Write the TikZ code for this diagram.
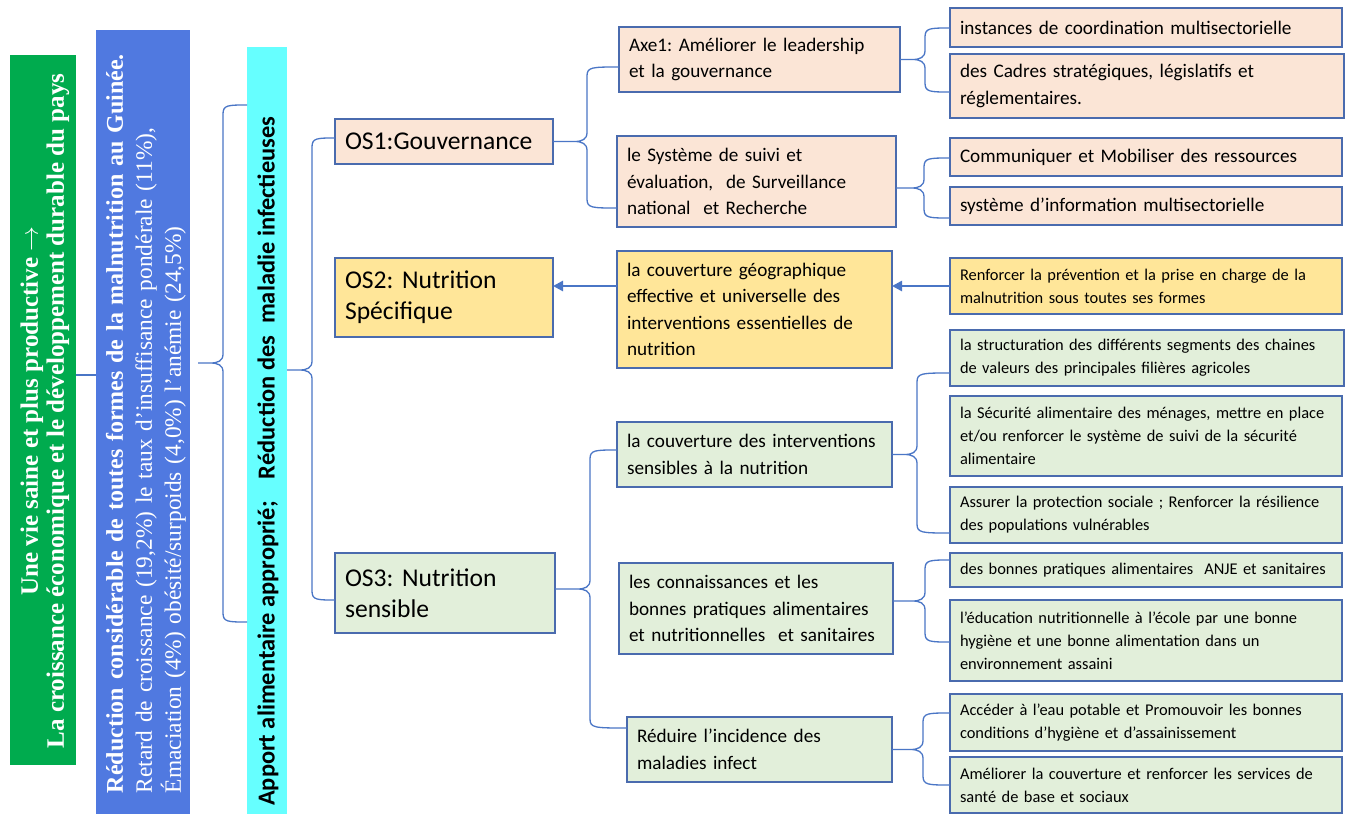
\documentclass[tikz,border=0pt]{standalone}
\usepackage{fontspec}
\setmainfont{Carlito}
\newfontfamily\tnr{Liberation Serif}
\usetikzlibrary{arrows.meta,calc}
\definecolor{peach}{HTML}{FBE5D6}
\definecolor{gold}{HTML}{FFE699}
\definecolor{lgreen}{HTML}{E2EFDA}
\definecolor{bord}{HTML}{4A6BAE}
\definecolor{linkc}{HTML}{4A76C6}
\definecolor{barG}{HTML}{00AB4E}
\definecolor{barB}{HTML}{5079E0}
\definecolor{barC}{HTML}{66FFFF}
\tikzset{
 box/.style={draw=bord, line width=1.3pt, inner xsep=10pt, inner ysep=0pt, outer sep=0pt, align=left, text=black,
   execute at begin node={\frenchspacing\hyphenpenalty=10000\exhyphenpenalty=10000}},
 fsL/.style={font=\fontsize{19.2}{26.5}\selectfont},
 fsS/.style={font=\fontsize{16.4}{23}\selectfont},
 fsOS/.style={font=\fontsize{25.6}{31}\selectfont},
 link/.style={draw=linkc, line width=1.3pt},
 arr/.style={draw=linkc, line width=2.6pt, -{Triangle[length=10pt,width=10pt]}},
 bar/.style={draw=none, inner sep=0pt, outer sep=0pt, anchor=north west},
}
\newcommand\bx[7]{%
 \pgfmathsetmacro\bxw{#4-#2-20}%
 \pgfmathsetmacro\bxh{#5-#3}%
 \node[box,#6, anchor=north west, minimum height=\bxh pt, text width=\bxw pt] (#1) at (#2,#3) {#7};}
\newcommand\curly[4]{%
\draw[link] let \p1=(#1), \p2=(#3), \p3=(#4) in
 (\p2) .. controls (#2pt+5pt,\y2) and (#2pt,\y2) .. (#2pt,\y2-9pt)
 -- (#2pt,\y1+9pt) .. controls (#2pt,\y1+2pt) and (#2pt-5pt,\y1) .. (#2pt-13pt,\y1) -- (\p1)
 (\p1) -- (#2pt-13pt,\y1) .. controls (#2pt-5pt,\y1) and (#2pt,\y1-2pt) .. (#2pt,\y1-9pt)
 -- (#2pt,\y3+9pt) .. controls (#2pt,\y3) and (#2pt+5pt,\y3) .. (\p3);
}
\begin{document}
\begin{tikzpicture}[x=1pt,y=-1pt]
\fill[white] (0,0) rectangle (1350,814);
\useasboundingbox (0,0) rectangle (1350,814);
% bars
\node[bar, fill=barG, minimum width=66pt, minimum height=710pt] (green) at (10,55) {};
\node[bar, fill=barB, minimum width=94pt, minimum height=784pt] (blue) at (96,30) {};
\node[bar, fill=barC, minimum width=40pt, minimum height=767pt] (cyan) at (247,47) {};
\node[rotate=90, text=white, font=\tnr\bfseries\fontsize{25}{26}\selectfont, align=center, inner sep=0pt] (gtext) at (45,411)
 {Une vie saine et plus productive $\rightarrow$\\La croissance économique et le développement durable du pays};
\node[rotate=90, text=white, font=\tnr\fontsize{23.4}{29}\selectfont, text width=751pt, align=left, inner sep=0pt] (btext) at (146,417.5)
 {\mbox{\fontsize{24}{29}\selectfont\bfseries Réduction considérable de toutes formes de la malnutrition au Guinée.}\\
 \makebox[\linewidth][s]{Retard de croissance (19,2\%) le taux d’insuffisance pondérale (11\%),}\\
 Émaciation (4\%) obésité/surpoids (4,0\%) l’anémie (24,5\%)};
\node[rotate=90, anchor=west, font=\bfseries\fontsize{24.4}{26}\selectfont, inner sep=0pt] (ctext) at (268,806)
 {Apport alimentaire approprié;\hspace{22pt}Réduction des\hspace{12pt}maladie infectieuses};
% level 1
\bx{os1}{335}{119}{553}{164}{fill=peach,fsOS}{OS1:Gouvernance}
\bx{os2}{335}{258}{553}{337}{fill=gold,fsOS}{OS2: Nutrition\\Spécifique}
\bx{os3}{335}{553}{555}{633}{fill=lgreen,fsOS}{OS3: Nutrition\\sensible}
% level 2
\bx{axe1}{619}{27}{900}{92}{fill=peach,fsL}{\mbox{Axe1: Améliorer le leadership}\\et la gouvernance}
\bx{suivi}{617}{136}{896}{227}{fill=peach,fsL}{le Système de suivi et\\\mbox{évaluation,\ \ de Surveillance}\\national\ \ et Recherche}
\bx{geo}{617}{251}{892}{368}{fill=gold,fsL}{la couverture géographique\\\mbox{effective et universelle des}\\\mbox{interventions essentielles de}\\nutrition}
\bx{sens}{617}{422}{892}{487}{fill=lgreen,fsL}{\mbox{la couverture des interventions}\\sensibles à la nutrition}
\bx{conn}{619}{563}{893}{654}{fill=lgreen,fsL}{les connaissances et les\\\mbox{bonnes pratiques alimentaires}\\\mbox{et nutritionnelles\ \ et sanitaires}}
\bx{red}{627}{717}{892}{782}{fill=lgreen,fsL}{Réduire l’incidence des\\maladies infect}
% level 3
\bx{inst}{950}{8}{1342}{47}{fill=peach,fsL}{\mbox{instances de coordination multisectorielle}}
\bx{cadres}{950}{54}{1344}{118}{fill=peach,fsL}{des Cadres stratégiques, législatifs et\\réglementaires.}
\bx{comm}{950}{138}{1342}{176}{fill=peach,fsL}{\mbox{Communiquer et Mobiliser des ressources}}
\bx{sysinfo}{950}{187}{1342}{225}{fill=peach,fsL}{\mbox{système d’information multisectorielle}}
\bx{renf}{950}{258}{1342}{314}{fill=gold,fsS}{\mbox{Renforcer la prévention et la prise en charge de la}\\malnutrition sous toutes ses formes}
\bx{struct}{950}{330}{1344}{386}{fill=lgreen,fsS}{\mbox{la structuration des différents segments des chaines}\\de valeurs des principales filières agricoles}
\bx{secu}{950}{396}{1342}{476}{fill=lgreen,fsS}{\mbox{la Sécurité alimentaire des ménages, mettre en place}\\\mbox{et/ou renforcer le système de suivi de la sécurité}\\alimentaire}
\bx{prot}{950}{487}{1342}{543}{fill=lgreen,fsS}{\mbox{Assurer la protection sociale ; Renforcer la résilience}\\des populations vulnérables}
\bx{bonnes}{950}{553}{1342}{587}{fill=lgreen,fsS}{\mbox{des bonnes pratiques alimentaires\ \ ANJE et sanitaires}}
\bx{educ}{950}{600}{1342}{681}{fill=lgreen,fsS}{\mbox{l’éducation nutritionnelle à l’école par une bonne}\\\mbox{hygiène et une bonne alimentation dans un}\\environnement assaini}
\bx{eau}{950}{694}{1342}{751}{fill=lgreen,fsS}{\mbox{Accéder à l’eau potable et Promouvoir les bonnes}\\conditions d’hygiène et d’assainissement}
\bx{amel}{950}{757}{1342}{813}{fill=lgreen,fsS}{\mbox{Améliorer la couverture et renforcer les services de}\\santé de base et sociaux}
% connectors
\draw[link, line width=2pt] (green.east |- 0,375) -- (blue.west |- 0,375);
\coordinate (t1) at (198,363);
\curly{t1}{223}{cyan.west |- 0,105}{cyan.west |- 0,622}
\curly{cyan.east |- 0,370}{312}{os1.west |- 0,138}{os3.west |- 0,600}
\curly{os1.east}{587}{axe1.west |- 0,67}{suivi.west |- 0,208}
\curly{axe1.east}{925}{inst.west |- 0,28}{cadres.west |- 0,92}
\curly{suivi.east |- 0,188}{924}{comm.west |- 0,158}{sysinfo.west |- 0,218}
\curly{os3.east |- 0,589}{590}{sens.west |- 0,450}{red.west |- 0,728}
\curly{sens.east}{917}{struct.west |- 0,373}{prot.west |- 0,533}
\curly{conn.east |- 0,601}{925}{bonnes.west |- 0,560}{educ.west |- 0,642}
\curly{red.east}{923}{eau.west |- 0,713}{amel.west |- 0,785}
\draw[arr] (geo.west |- 0,286) -- (os2.east |- 0,286);
\draw[arr] (renf.west |- 0,286) -- (geo.east |- 0,286);
\end{tikzpicture}
\end{document}
